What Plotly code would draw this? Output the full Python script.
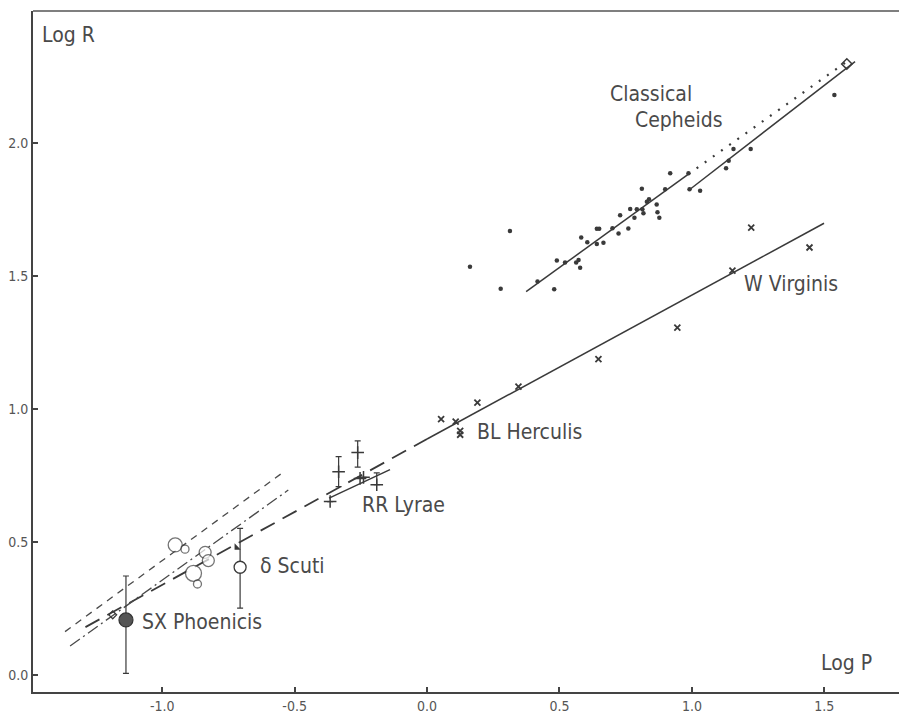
import plotly.graph_objects as go

# ---------------- data ----------------
# Classical Cepheids (dots): log P, log R
cc_logp = [0.162, 0.278, 0.313, 0.417, 0.480, 0.490, 0.521, 0.563, 0.572, 0.578,
           0.582, 0.605, 0.641, 0.650, 0.641, 0.666, 0.700, 0.723, 0.729, 0.760,
           0.767, 0.783, 0.792, 0.811, 0.813, 0.817, 0.830, 0.838, 0.867, 0.870,
           0.877, 0.899, 0.918, 0.987, 0.991, 1.031, 1.129, 1.139, 1.157, 1.222,
           1.538]
cc_logr = [1.535, 1.452, 1.669, 1.479, 1.450, 1.558, 1.551, 1.551, 1.560, 1.531,
           1.645, 1.627, 1.677, 1.677, 1.620, 1.625, 1.679, 1.660, 1.728, 1.678,
           1.752, 1.719, 1.751, 1.828, 1.751, 1.736, 1.779, 1.788, 1.769, 1.739,
           1.719, 1.826, 1.886, 1.886, 1.826, 1.820, 1.905, 1.933, 1.977, 1.977,
           2.180]
cc_open_logp = [1.585]
cc_open_logr = [2.297]

# Type II Cepheids (crosses)
blh_logp = [0.053, 0.108, 0.125, 0.125, 0.190, 0.345]
blh_logr = [0.962, 0.952, 0.918, 0.903, 1.024, 1.084]
wvir_logp = [0.647, 0.945, 1.153, 1.224, 1.444]
wvir_logr = [1.187, 1.306, 1.520, 1.682, 1.607]

# RR Lyrae (plus signs with error bars)
rrl_logp = [-0.366, -0.334, -0.262, -0.253, -0.240, -0.190]
rrl_logr = [0.652, 0.764, 0.836, 0.739, 0.743, 0.715]
rrl_err_up = [0.0, 0.057, 0.044, 0.0, 0.0, 0.045]
rrl_err_dn = [0.0, 0.056, 0.055, 0.0, 0.0, 0.0]

# delta Scuti stars (open circles, sizes as drawn)
ds_logp = [-0.951, -0.914, -0.838, -0.826, -0.882, -0.867]
ds_logr = [0.489, 0.473, 0.461, 0.430, 0.382, 0.342]
ds_size = [14, 8, 12, 12, 16, 8]
dsct_logp = [-0.706]
dsct_logr = [0.405]
dsct_err_up = [0.146]
dsct_err_dn = [0.154]
tri_logp = [-0.719]
tri_logr = [0.479]

# SX Phoenicis
sxp_logp = [-1.137]
sxp_logr = [0.207]
sxp_err_up = [0.165]
sxp_err_dn = [0.201]
sq_logp = [-1.187]
sq_logr = [0.226]

# relations (line end points)
cc_short_x = [0.374, 0.987]
cc_short_y = [1.441, 1.883]
cc_long_x = [0.993, 1.616]
cc_long_y = [1.826, 2.306]
cc_dot_x = [0.987, 1.585]
cc_dot_y = [1.883, 2.306]
t2_solid_x = [0.0, 1.499]
t2_solid_y = [0.887, 1.698]
t2_dash_x = [-1.29, 0.0]
t2_dash_y = [0.180, 0.887]
rr_x = [-0.37, -0.14]
rr_y = [0.665, 0.772]
ds_a_x = [-1.367, -0.549]
ds_a_y = [0.163, 0.758]
ds_b_x = [-1.348, -0.524]
ds_b_y = [0.109, 0.695]

xtick_vals = [-1.0, -0.5, 0.0, 0.5, 1.0, 1.5]
xtick_text = ["-1.0", "-0.5", "0.0", "0.5", "1.0", "1.5"]
ytick_vals = [0.0, 0.5, 1.0, 1.5, 2.0]
ytick_text = ["0.0", "0.5", "1.0", "1.5", "2.0"]

# ---------------- figure ----------------
INK = "#3a3a3a"
TXT = "#4a4a4a"
FONT = "DejaVu Sans Condensed, Liberation Sans Narrow, DejaVu Sans, sans-serif"

fig = go.Figure()


def line(x, y, dash="solid", width=1.5, color=INK):
    fig.add_trace(go.Scatter(x=x, y=y, mode="lines",
                             line=dict(color=color, width=width, dash=dash),
                             hoverinfo="skip", showlegend=False))


line(cc_short_x, cc_short_y)
line(cc_long_x, cc_long_y)
line(cc_dot_x, cc_dot_y, dash="2px,8px", width=2.2)
line(t2_solid_x, t2_solid_y)
line(t2_dash_x, t2_dash_y, dash="16px,9px", width=1.8)
line(rr_x, rr_y)
line(ds_a_x, ds_a_y, dash="7px,6px", width=1.3, color="#4a4a4a")
line(ds_b_x, ds_b_y, dash="12px,4px,2px,4px", width=1.3, color="#4a4a4a")

fig.add_trace(go.Scatter(x=cc_logp, y=cc_logr, mode="markers",
                         marker=dict(size=4.5, color=INK), showlegend=False))
fig.add_trace(go.Scatter(x=cc_open_logp, y=cc_open_logr, mode="markers",
                         marker=dict(size=8, symbol="diamond-open", color=INK,
                                     line=dict(width=1.5)), showlegend=False))
fig.add_trace(go.Scatter(x=blh_logp + wvir_logp, y=blh_logr + wvir_logr, mode="markers",
                         marker=dict(size=6, symbol="x-thin", color=INK,
                                     line=dict(width=1.8, color=INK)), showlegend=False))
fig.add_trace(go.Scatter(x=rrl_logp, y=rrl_logr, mode="markers",
                         marker=dict(size=9, symbol="cross-thin", color=INK,
                                     line=dict(width=1.5, color=INK)),
                         error_y=dict(type="data", array=rrl_err_up, arrayminus=rrl_err_dn,
                                      color=INK, thickness=1.2, width=3),
                         showlegend=False))
fig.add_trace(go.Scatter(x=ds_logp, y=ds_logr, mode="markers",
                         marker=dict(size=ds_size, symbol="circle", color="white",
                                     line=dict(width=1.3, color=INK)), showlegend=False))
fig.add_trace(go.Scatter(x=dsct_logp, y=dsct_logr, mode="markers",
                         marker=dict(size=12, symbol="circle", color="white",
                                     line=dict(width=1.3, color=INK)),
                         error_y=dict(type="data", array=dsct_err_up, arrayminus=dsct_err_dn,
                                      color=INK, thickness=1.2, width=3),
                         showlegend=False))
fig.add_trace(go.Scatter(x=tri_logp, y=tri_logr, mode="markers",
                         marker=dict(size=7, symbol="triangle-sw", color=INK),
                         showlegend=False))
fig.add_trace(go.Scatter(x=sxp_logp, y=sxp_logr, mode="markers",
                         marker=dict(size=14, symbol="circle", color="#555",
                                     line=dict(width=1.2, color="#333")),
                         error_y=dict(type="data", array=sxp_err_up, arrayminus=sxp_err_dn,
                                      color=INK, thickness=1.2, width=3),
                         showlegend=False))
fig.add_trace(go.Scatter(x=sq_logp, y=sq_logr, mode="markers",
                         marker=dict(size=6, symbol="diamond-open", color=INK,
                                     line=dict(width=1.3)), showlegend=False))

labels = [
    ("Log R", -1.46, 2.405, "left"),
    ("Log P", 1.48, 0.045, "left"),
    ("Classical", 0.685, 2.185, "left"),
    ("Cepheids", 0.778, 2.085, "left"),
    ("W Virginis", 1.19, 1.47, "left"),
    ("BL Herculis", 0.18, 0.914, "left"),
    ("RR Lyrae", -0.254, 0.639, "left"),
    ("\u03b4 Scuti", -0.64, 0.409, "left"),
    ("SX Phoenicis", -1.083, 0.2, "left"),
]
for txt, x, y, anc in labels:
    fig.add_annotation(x=x, y=y, text=txt, showarrow=False, xanchor=anc, yanchor="middle",
                       font=dict(family=FONT, size=21, color=TXT))

axis_common = dict(showgrid=False, zeroline=False, showline=True, linecolor="#444",
                   linewidth=2, ticks="inside", ticklen=5, tickwidth=1.5, tickcolor="#444",
                   tickfont=dict(family=FONT, size=14, color="#555"))
fig.update_xaxes(range=[-1.488, 1.782], tickvals=xtick_vals, ticktext=xtick_text,
                 **axis_common)
fig.update_yaxes(range=[-0.064, 2.496], tickvals=ytick_vals, ticktext=ytick_text,
                 **axis_common)

fig.add_shape(type="line", xref="paper", yref="paper", x0=0, x1=1, y0=1, y1=1,
              line=dict(color="#555", width=1.5))

fig.update_layout(width=899, height=716, margin=dict(l=33, r=0, t=11, b=24),
                  paper_bgcolor="white", plot_bgcolor="white", showlegend=False)

fig.write_html("out.html")
